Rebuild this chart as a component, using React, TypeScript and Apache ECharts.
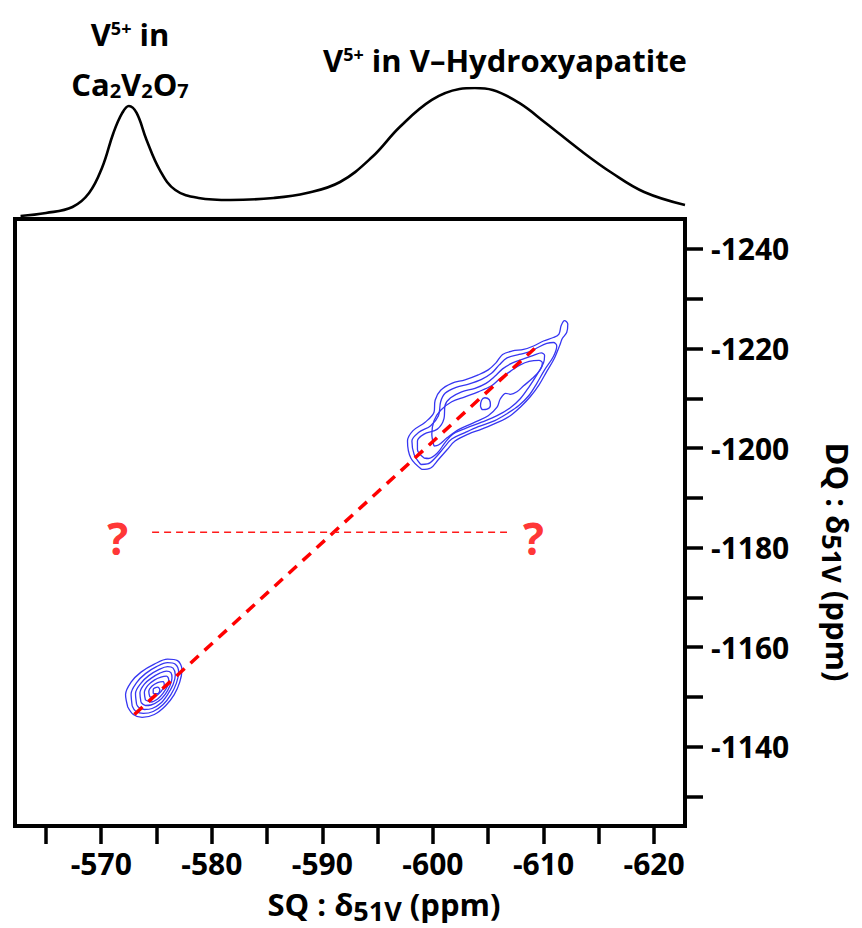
import React, { useEffect, useRef } from "react";
import * as echarts from "echarts";

// ---------- data (ppm) ----------
const sqTicks = [-565, -570, -575, -580, -585, -590, -595, -600, -605, -610, -615, -620];
const sqLabels = [-570, -580, -590, -600, -610, -620];
const dqTicks = [-1240, -1230, -1220, -1210, -1200, -1190, -1180, -1170, -1160, -1150, -1140, -1130];
const dqLabels = [-1240, -1220, -1200, -1180, -1160, -1140];

const SQ_MIN = -622.8;
const SQ_MAX = -562.2;
const DQ_MIN = -1246;
const DQ_MAX = -1124.1;

// 1D projection (SQ ppm, relative intensity)
const projSQ = [-562.7, -565.0, -567.4, -568.9, -570.1, -571.1, -571.9, -572.5, -573.2, -574.1, -575.3, -576.7, -578.8, -581.7, -585.6, -588.6, -591.6, -594.5, -597.0, -599.9, -602.4, -603.8, -605.4, -607.8, -610.2, -613.3, -616.2, -619.1, -622.8];
const projI = [1.5, 3.8, 8.5, 19.2, 39.2, 65.4, 80.8, 86.2, 80.8, 60.0, 36.9, 21.5, 15.4, 13.8, 15.4, 19.2, 27.7, 46.9, 70.0, 90.8, 99.2, 100, 98.5, 88.5, 73.1, 52.3, 34.6, 20.0, 10.0];

// V-hydroxyapatite contours (SQ, DQ)
const hapLevel1: number[][] = [
  [-599.0, -1195.7], [-598.0, -1198.0], [-597.7, -1201.4], [-598.2, -1203.5], [-599.3, -1205.2], [-600.1, -1207.2],
  [-600.2, -1209.6], [-600.7, -1211.6], [-601.7, -1213.0], [-602.9, -1213.7], [-604.1, -1214.7], [-605.0, -1215.7],
  [-605.7, -1217.1], [-606.3, -1218.8], [-607.2, -1219.5], [-608.2, -1219.8], [-609.1, -1220.5], [-610.0, -1221.5],
  [-610.9, -1222.2], [-611.4, -1222.9], [-611.6, -1224.6], [-611.9, -1225.6], [-612.2, -1224.9], [-612.1, -1223.2],
  [-611.7, -1222.0], [-611.5, -1220.8], [-611.0, -1218.1], [-610.3, -1215.4], [-609.6, -1212.7], [-608.8, -1210.3],
  [-607.9, -1208.2], [-607.0, -1206.5], [-605.9, -1205.2], [-604.4, -1203.8], [-603.2, -1202.8], [-602.0, -1201.4],
  [-601.3, -1199.7], [-600.5, -1197.7], [-599.8, -1196.0], [-599.0, -1195.7],
];
const hapLevel2: number[][] = [
  [-598.9, -1196.7], [-598.3, -1198.7], [-598.1, -1201.4], [-598.7, -1203.1], [-599.8, -1204.5], [-600.5, -1206.5],
  [-600.7, -1209.3], [-601.1, -1211.0], [-602.1, -1212.2], [-603.3, -1212.9], [-604.4, -1213.8], [-605.3, -1215.0],
  [-606.0, -1216.7], [-606.7, -1218.1], [-607.8, -1218.8], [-608.7, -1219.3], [-609.4, -1220.1], [-610.3, -1221.0],
  [-610.9, -1221.2], [-611.2, -1220.5], [-610.9, -1218.4], [-610.1, -1215.7], [-609.4, -1213.0], [-608.7, -1210.6],
  [-607.8, -1208.6], [-606.7, -1206.9], [-605.6, -1205.5], [-604.1, -1204.3], [-602.9, -1203.1], [-601.7, -1201.8],
  [-601.0, -1200.1], [-600.2, -1198.0], [-599.5, -1196.8], [-598.9, -1196.7],
];
const hapLevel3: number[][] = [
  [-599.2, -1198.0], [-598.6, -1199.7], [-598.6, -1201.4], [-599.2, -1202.8], [-600.4, -1203.8], [-601.0, -1205.9],
  [-601.1, -1208.6], [-601.6, -1210.1], [-602.6, -1211.3], [-603.8, -1212.0], [-604.8, -1213.0], [-605.6, -1214.4],
  [-606.3, -1215.9], [-607.2, -1217.1], [-608.2, -1217.9], [-609.1, -1218.6], [-609.8, -1219.1], [-610.1, -1218.6],
  [-610.0, -1217.1], [-609.4, -1214.7], [-608.7, -1212.3], [-607.9, -1209.9], [-607.0, -1208.1], [-605.8, -1206.5],
  [-604.4, -1205.2], [-603.0, -1204.0], [-601.8, -1202.8], [-601.1, -1201.1], [-600.4, -1199.0], [-599.6, -1197.9],
  [-599.2, -1198.0],
];
const hapLevel4: number[][] = [
  [-600.1, -1200.4], [-599.9, -1202.8], [-600.1, -1205.5], [-600.7, -1207.6], [-601.7, -1209.3], [-602.9, -1210.3],
  [-604.1, -1211.3], [-605.3, -1212.5], [-606.1, -1214.0], [-607.0, -1215.4], [-607.9, -1216.7], [-608.7, -1217.4],
  [-609.6, -1217.6], [-609.9, -1217.1], [-609.7, -1215.7], [-609.0, -1214.0], [-608.2, -1212.5], [-607.6, -1211.3],
  [-607.0, -1210.8], [-606.6, -1211.0], [-606.1, -1209.9], [-605.8, -1208.2], [-605.0, -1206.5], [-603.8, -1205.2],
  [-602.4, -1203.8], [-601.3, -1202.1], [-600.5, -1200.6], [-600.1, -1200.4],
];
const hapLevel5: number[][] = [
  [-604.3, -1208.4], [-604.4, -1209.6], [-604.7, -1210.1], [-605.1, -1209.7], [-605.2, -1208.6], [-604.9, -1207.8],
  [-604.5, -1207.7], [-604.3, -1208.4],
];

// Ca2V2O7 contours (SQ, DQ)
const cvoLevel1: number[][] = [
  [-572.4, -1148.0], [-572.2, -1150.5], [-572.7, -1153.0], [-573.6, -1155.0], [-574.8, -1156.6], [-576.0, -1157.6],
  [-576.9, -1157.3], [-577.3, -1155.5], [-577.1, -1153.0], [-576.6, -1150.5], [-575.8, -1148.2], [-574.8, -1146.5],
  [-573.7, -1145.9], [-572.9, -1146.5], [-572.4, -1148.0],
];
const cvoLevel2: number[][] = [
  [-572.8, -1148.2], [-572.7, -1150.6], [-573.2, -1152.9], [-574.0, -1154.7], [-575.0, -1156.1], [-576.0, -1156.9],
  [-576.7, -1156.6], [-577.0, -1155.0], [-576.8, -1152.8], [-576.3, -1150.5], [-575.6, -1148.5], [-574.7, -1147.1],
  [-573.8, -1146.7], [-573.1, -1147.2], [-572.8, -1148.2],
];
const cvoLevel3: number[][] = [
  [-573.2, -1148.5], [-573.1, -1150.7], [-573.6, -1152.8], [-574.3, -1154.3], [-575.2, -1155.5], [-576.0, -1156.1],
  [-576.5, -1155.8], [-576.7, -1154.4], [-576.5, -1152.5], [-576.0, -1150.5], [-575.4, -1148.8], [-574.6, -1147.7],
  [-573.9, -1147.5], [-573.4, -1147.9], [-573.2, -1148.5],
];
const cvoLevel4: number[][] = [
  [-573.6, -1148.9], [-573.5, -1150.8], [-573.9, -1152.6], [-574.6, -1153.9], [-575.3, -1154.8], [-575.9, -1155.2],
  [-576.3, -1154.9], [-576.4, -1153.8], [-576.2, -1152.2], [-575.8, -1150.6], [-575.2, -1149.2], [-574.5, -1148.4],
  [-574.0, -1148.3], [-573.6, -1148.9],
];
const cvoLevel5: number[][] = [
  [-574.0, -1149.4], [-573.9, -1150.9], [-574.2, -1152.3], [-574.8, -1153.4], [-575.4, -1154.0], [-575.9, -1154.2],
  [-576.1, -1153.5], [-576.0, -1152.2], [-575.6, -1150.8], [-575.1, -1149.6], [-574.5, -1149.0], [-574.0, -1149.4],
];
const cvoLevel6: number[][] = [
  [-574.4, -1150.0], [-574.3, -1151.1], [-574.6, -1152.2], [-575.1, -1152.9], [-575.6, -1153.1], [-575.7, -1152.3],
  [-575.4, -1151.1], [-574.9, -1150.2], [-574.4, -1150.0],
];
const cvoLevel7: number[][] = [
  [-574.7, -1150.7], [-574.7, -1151.5], [-575.1, -1152.0], [-575.3, -1151.4], [-575.1, -1150.7], [-574.7, -1150.7],
];

const diagonalLine: number[][] = [[-573.0, -1146.5], [-609.2, -1220.0]];
const crossLine: number[][] = [[-574.6, -1183.1], [-606.7, -1183.1]];
const questionMarks: number[][] = [[-571.5, -1183.1], [-609.1, -1183.1]];

const FONT = "'Open Sans', 'DejaVu Sans', sans-serif";

export default function App() {
  const ref = useRef<HTMLDivElement>(null);

  useEffect(() => {
    if (!ref.current) return;
    const chart = echarts.init(ref.current, undefined, { renderer: "svg" });

    const contourStyle = { color: "#3636f2", width: 1.3 };
    const contours = [hapLevel1, hapLevel2, hapLevel3, hapLevel4, hapLevel5,
      cvoLevel1, cvoLevel2, cvoLevel3, cvoLevel4, cvoLevel5, cvoLevel6, cvoLevel7];

    const base = { fontFamily: FONT, fontWeight: "bold" as const, color: "#000" };
    const rich = {
      b: { ...base, fontSize: 31, verticalAlign: "top" as const },
      sup: { ...base, fontSize: 18, verticalAlign: "top" as const },
      sub: { ...base, fontSize: 20, verticalAlign: "top" as const, padding: [12, 0, 0, 0] },
      bigsub: { ...base, fontSize: 27, verticalAlign: "top" as const, padding: [8, 0, 0, 0] },
    };
    const tickFont = { fontSize: 30, fontWeight: "bold" as const, color: "#000", fontFamily: FONT };

    const option: any = {
      animation: false,
      backgroundColor: "#fff",
      grid: [
        { left: 15, top: 219, width: 670, height: 607, show: true, borderColor: "#000", borderWidth: 4, backgroundColor: "transparent" },
        { left: 15, top: 88, width: 670, height: 130, show: false },
      ],
      xAxis: [
        {
          gridIndex: 0, type: "value", min: SQ_MIN, max: SQ_MAX, inverse: true, position: "bottom",
          axisLine: { show: false },
          axisTick: { show: true, length: 18, lineStyle: { width: 3.5, color: "#000" }, customValues: sqTicks },
          axisLabel: { customValues: sqLabels, formatter: (v: number) => String(v), margin: 21, lineHeight: 32, ...tickFont },
          splitLine: { show: false },
        },
        { gridIndex: 1, type: "value", min: SQ_MIN, max: SQ_MAX, inverse: true, show: false },
      ],
      yAxis: [
        {
          gridIndex: 0, type: "value", min: DQ_MIN, max: DQ_MAX, inverse: true, position: "right",
          axisLine: { show: false },
          axisTick: { show: true, length: 18, lineStyle: { width: 3.5, color: "#000" }, customValues: dqTicks },
          axisLabel: { customValues: dqLabels, formatter: (v: number) => String(v), margin: 26, ...tickFont },
          splitLine: { show: false },
        },
        { gridIndex: 1, type: "value", min: 0, max: 100, show: false },
      ],
      series: [
        {
          type: "line", xAxisIndex: 1, yAxisIndex: 1, showSymbol: false, symbol: "none", smooth: 0.4,
          data: projSQ.map((x, i) => [x, projI[i]]),
          lineStyle: { color: "#000", width: 2.6 }, silent: true,
        },
        ...contours.map((c) => ({
          type: "line", xAxisIndex: 0, yAxisIndex: 0, showSymbol: false, symbol: "none", smooth: 0.35,
          data: c, lineStyle: contourStyle, silent: true, z: 2,
        })),
        {
          type: "line", xAxisIndex: 0, yAxisIndex: 0, showSymbol: false, symbol: "none", data: diagonalLine,
          lineStyle: { color: "#ff0000", width: 3.5, type: [11, 8] }, silent: true, z: 5,
        },
        {
          type: "line", xAxisIndex: 0, yAxisIndex: 0, showSymbol: false, symbol: "none", data: crossLine,
          lineStyle: { color: "#ff1a1a", width: 1.5, type: [7, 5] }, silent: true, z: 5,
        },
        {
          type: "scatter", xAxisIndex: 0, yAxisIndex: 0, symbol: "circle", symbolSize: 1,
          itemStyle: { color: "rgba(0,0,0,0)" }, data: questionMarks, silent: true, z: 6,
          label: { show: true, position: "inside", formatter: "?", color: "#ff0000", fontSize: 44, fontWeight: "bold", fontFamily: FONT, offset: [0, 6] },
        },
      ],
      graphic: [
        { type: "text", x: 130, y: 34, style: { text: "{b|V}{sup|5+}{b| in}", rich, align: "center", verticalAlign: "middle" } },
        { type: "text", x: 130, y: 84, style: { text: "{b|Ca}{sub|2}{b|V}{sub|2}{b|O}{sub|7}", rich, align: "center", verticalAlign: "middle" } },
        { type: "text", x: 505, y: 60, style: { text: "{b|V}{sup|5+}{b| in V\u2013Hydroxyapatite}", rich, align: "center", verticalAlign: "middle" } },
        { type: "text", x: 384, y: 906, style: { text: "{b|SQ : \u03b4}{bigsub|51V}{b| (ppm)}", rich, align: "center", verticalAlign: "middle" } },
        { type: "text", x: 836, y: 562, rotation: -Math.PI / 2, style: { text: "{b|DQ : \u03b4}{bigsub|51V}{b| (ppm)}", rich, align: "center", verticalAlign: "middle" } },
      ],
    };

    chart.setOption(option);
    return () => chart.dispose();
  }, []);

  return <div ref={ref} style={{ position: "fixed", left: 0, top: 0, width: 862, height: 928 }} />;
}
